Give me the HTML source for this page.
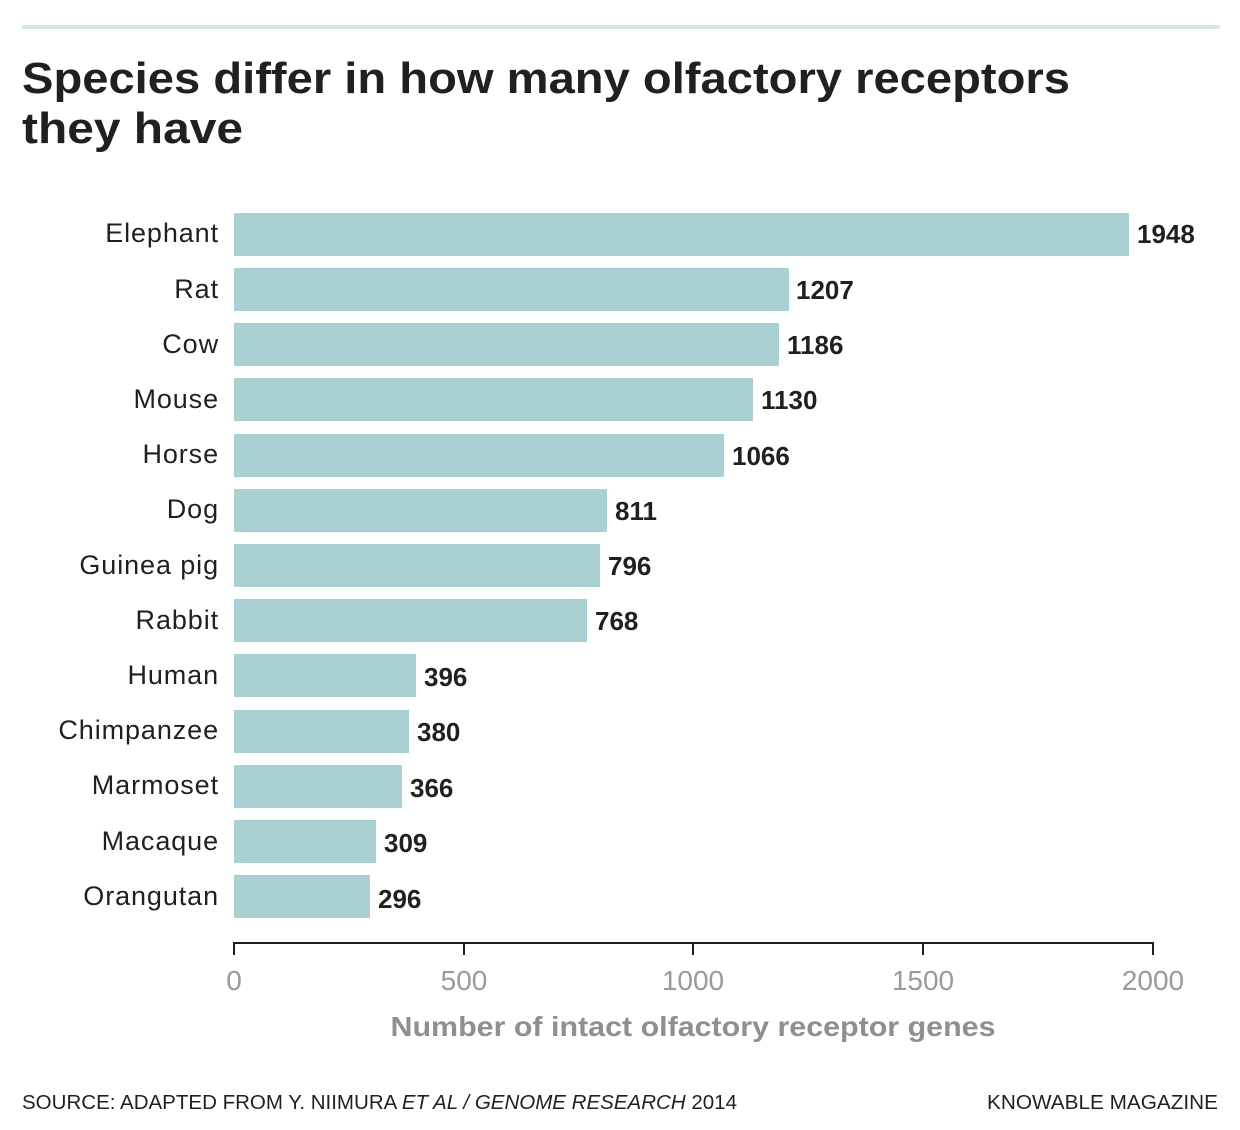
<!DOCTYPE html>
<html><head><meta charset="utf-8"><style>
html,body{margin:0;padding:0;background:#fff}
svg{display:block}
text{font-family:"Liberation Sans",sans-serif}
</style></head><body>
<svg width="1240" height="1130" viewBox="0 0 1240 1130" xmlns="http://www.w3.org/2000/svg">
<rect x="22" y="25" width="1198" height="4" fill="#d6e7e8"/>
<text x="22" y="93" font-size="44" font-weight="bold" fill="#231f20" textLength="1048" lengthAdjust="spacingAndGlyphs">Species differ in how many olfactory receptors</text>
<text x="22" y="143" font-size="44" font-weight="bold" fill="#231f20" textLength="221" lengthAdjust="spacingAndGlyphs">they have</text>
<g font-size="26" fill="#231f20">
<g text-anchor="end" font-size="27" letter-spacing="0.9">
<text x="219" y="242">Elephant</text>
<text x="219" y="298">Rat</text>
<text x="219" y="353">Cow</text>
<text x="219" y="408">Mouse</text>
<text x="219" y="463">Horse</text>
<text x="219" y="518">Dog</text>
<text x="219" y="574">Guinea pig</text>
<text x="219" y="629">Rabbit</text>
<text x="219" y="684">Human</text>
<text x="219" y="739">Chimpanzee</text>
<text x="219" y="794">Marmoset</text>
<text x="219" y="850">Macaque</text>
<text x="219" y="905">Orangutan</text>
</g>
<g fill="#a9d1d4">
<rect x="234" y="213" width="895" height="43"/>
<rect x="234" y="268" width="555" height="43"/>
<rect x="234" y="323" width="545" height="43"/>
<rect x="234" y="378" width="519" height="43"/>
<rect x="234" y="434" width="490" height="43"/>
<rect x="234" y="489" width="373" height="43"/>
<rect x="234" y="544" width="366" height="43"/>
<rect x="234" y="599" width="353" height="43"/>
<rect x="234" y="654" width="182" height="43"/>
<rect x="234" y="710" width="175" height="43"/>
<rect x="234" y="765" width="168" height="43"/>
<rect x="234" y="820" width="142" height="43"/>
<rect x="234" y="875" width="136" height="43"/>
</g>
<g font-weight="bold">
<text x="1137" y="243">1948</text>
<text x="796" y="299">1207</text>
<text x="787" y="354">1186</text>
<text x="761" y="409">1130</text>
<text x="732" y="465">1066</text>
<text x="615" y="520">811</text>
<text x="608" y="575">796</text>
<text x="595" y="630">768</text>
<text x="424" y="686">396</text>
<text x="417" y="741">380</text>
<text x="410" y="797">366</text>
<text x="384" y="852">309</text>
<text x="378" y="908">296</text>
</g>
</g>
<g stroke="#231f20" stroke-width="2">
<line x1="234" y1="943" x2="1153" y2="943"/>
<line x1="234" y1="942" x2="234" y2="955"/>
<line x1="464" y1="942" x2="464" y2="955"/>
<line x1="693" y1="942" x2="693" y2="955"/>
<line x1="923" y1="942" x2="923" y2="955"/>
<line x1="1153" y1="942" x2="1153" y2="955"/>
</g>
<g font-size="28" fill="#9a9a9a" text-anchor="middle">
<text x="234" y="990">0</text>
<text x="464" y="990">500</text>
<text x="693" y="990">1000</text>
<text x="923" y="990">1500</text>
<text x="1153" y="990">2000</text>
</g>
<text x="693" y="1036" font-size="28" font-weight="bold" fill="#8f8f8f" text-anchor="middle" textLength="605" lengthAdjust="spacingAndGlyphs">Number of intact olfactory receptor genes</text>
<text x="22" y="1109" font-size="20" fill="#231f20" textLength="715" lengthAdjust="spacingAndGlyphs">SOURCE: ADAPTED FROM Y. NIIMURA <tspan font-style="italic">ET AL / GENOME RESEARCH</tspan> 2014</text>
<text x="1218" y="1109" font-size="20" fill="#231f20" text-anchor="end" textLength="231" lengthAdjust="spacingAndGlyphs">KNOWABLE MAGAZINE</text>
</svg>
</body></html>
